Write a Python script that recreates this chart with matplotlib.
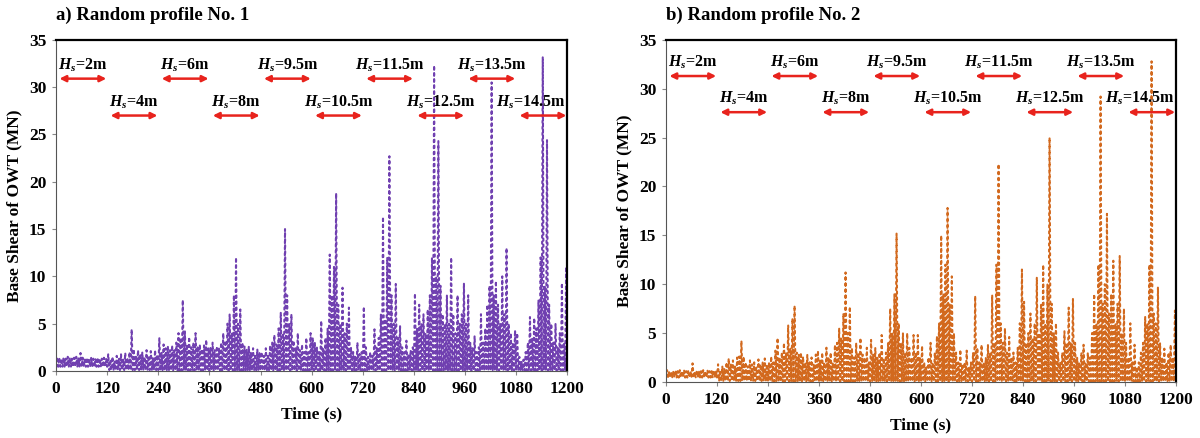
import numpy as np
import matplotlib.pyplot as plt

plt.rcParams["font.family"] = ["Liberation Serif", "DejaVu Serif"]
plt.rcParams["font.weight"] = "bold"
plt.rcParams["mathtext.fontset"] = "custom"
plt.rcParams["mathtext.it"] = "Liberation Serif:italic:bold"
plt.rcParams["mathtext.rm"] = "Liberation Serif:bold"

# wave heights of the ten 120 s segments
hs_labels = ["2", "4", "6", "8", "9.5", "10.5", "11.5", "12.5", "13.5", "14.5"]
seg_len = 120.0
peak_dt = 5.0

# local peaks of base shear (MN), one every 5 s, profile No. 1
peaks_1 = [
    1.5, 1.4, 1.3, 1.4, 1.3, 1.5, 1.4, 1.3, 1.4, 1.5, 1.4, 1.9, 1.4, 1.3, 1.4, 1.3, 1.4, 1.3, 1.3, 1.4, 1.3, 1.3, 1.4, 1.3,
    1.8, 1.2, 1.5, 1.0, 1.6, 1.3, 1.8, 1.2, 1.9, 1.4, 2.0, 4.4, 2.3, 1.5, 2.2, 1.8, 2.0, 1.5, 2.2, 1.6, 2.1, 1.4, 2.2, 1.7,
    3.5, 2.0, 2.8, 2.4, 2.6, 2.2, 2.7, 2.2, 3.0, 4.0, 3.5, 7.5, 4.2, 2.8, 3.6, 2.5, 3.0, 4.0, 2.6, 2.8, 2.3, 2.7, 3.3, 2.4,
    2.5, 3.0, 2.2, 2.6, 2.4, 3.0, 4.0, 3.2, 5.0, 6.0, 4.0, 8.0, 12.0, 5.0, 6.5, 3.0, 2.6, 2.3, 2.6, 2.0, 2.4, 1.8, 2.3, 2.0,
    2.0, 1.6, 2.4, 1.8, 2.7, 3.0, 3.8, 2.8, 4.5, 6.2, 4.0, 15.0, 8.0, 5.0, 6.0, 3.2, 2.5, 4.0, 2.2, 2.8, 2.0, 3.5, 2.0, 4.0,
    3.5, 3.0, 2.5, 2.0, 5.3, 2.4, 3.5, 4.5, 12.3, 8.0, 11.0, 18.8, 7.0, 5.0, 8.8, 4.0, 5.0, 6.7, 2.5, 2.0, 1.6, 3.0, 1.8, 2.0,
    6.8, 2.5, 1.5, 2.0, 1.6, 4.4, 2.5, 3.5, 6.0, 16.3, 5.5, 12.0, 22.7, 8.0, 5.0, 9.2, 3.5, 4.8, 2.5, 2.0, 3.2, 1.8, 2.2, 2.5,
    8.2, 4.5, 7.0, 5.0, 6.0, 4.0, 6.5, 8.0, 12.0, 32.3, 10.0, 24.3, 9.0, 6.0, 5.0, 8.0, 5.0, 12.0, 6.0, 4.0, 8.0, 5.0, 6.0, 9.3,
    5.0, 8.0, 3.0, 2.5, 3.7, 2.0, 2.5, 6.0, 3.0, 4.5, 7.0, 9.0, 30.5, 8.0, 9.5, 7.0, 5.0, 10.0, 6.0, 13.0, 5.0, 4.0, 3.0, 4.3,
    4.0, 1.5, 1.0, 1.2, 2.0, 3.0, 5.7, 3.5, 5.6, 4.5, 7.5, 12.0, 33.2, 9.0, 24.4, 7.0, 5.0, 3.0, 5.0, 2.5, 4.0, 9.3, 3.0, 11.0,
]
# local peaks of base shear (MN), one every 5 s, profile No. 2
peaks_2 = [
    1.2, 1.1, 1.0, 1.1, 1.2, 1.1, 1.2, 1.1, 1.2, 1.1, 1.2, 1.1, 1.9, 1.0, 1.2, 1.1, 1.1, 1.2, 1.1, 1.2, 1.1, 1.1, 1.2, 1.1,
    1.8, 1.2, 1.6, 1.4, 2.0, 2.4, 1.8, 2.2, 1.6, 2.5, 2.6, 4.2, 2.6, 2.0, 1.6, 2.2, 1.8, 2.0, 1.5, 2.3, 1.8, 2.0, 2.4, 1.8,
    2.0, 2.6, 2.0, 3.2, 4.5, 2.5, 3.0, 4.0, 3.0, 5.8, 3.5, 6.5, 7.8, 3.0, 2.8, 3.0, 2.6, 2.0, 2.8, 2.0, 2.5, 1.8, 2.8, 3.2,
    2.2, 3.0, 2.0, 3.5, 2.5, 3.0, 2.0, 3.8, 4.0, 5.5, 4.5, 7.0, 11.2, 5.0, 7.7, 3.5, 2.5, 4.0, 3.0, 4.5, 2.8, 2.5, 3.5, 2.0,
    4.3, 2.8, 3.5, 2.5, 3.0, 4.8, 2.4, 3.0, 4.0, 7.5, 5.0, 9.0, 15.2, 6.0, 4.0, 5.0, 3.0, 5.0, 3.5, 2.5, 4.8, 3.0, 4.8, 2.5,
    3.7, 2.0, 1.5, 2.5, 4.0, 2.0, 3.0, 4.7, 6.0, 15.0, 9.0, 12.0, 17.8, 8.0, 10.8, 5.0, 3.0, 2.0, 3.3, 1.8, 2.0, 3.2, 1.5, 2.0,
    3.0, 8.8, 3.5, 2.0, 3.8, 2.0, 2.5, 3.8, 3.0, 8.9, 4.0, 12.0, 22.3, 6.0, 4.0, 5.5, 3.0, 4.6, 2.5, 3.0, 2.0, 3.5, 6.0, 11.5,
    8.2, 4.0, 5.0, 7.0, 4.5, 6.0, 10.7, 5.0, 8.0, 12.0, 6.0, 10.0, 25.0, 8.0, 5.0, 6.0, 3.0, 2.0, 3.0, 5.2, 4.0, 7.6, 4.0, 8.5,
    4.0, 2.5, 2.0, 3.0, 3.8, 2.0, 3.0, 2.5, 5.0, 9.0, 6.0, 12.0, 29.2, 8.0, 10.0, 17.2, 7.0, 9.0, 12.4, 6.0, 8.0, 12.9, 5.0, 7.5,
    4.0, 2.5, 6.0, 2.0, 3.8, 1.5, 2.0, 3.0, 4.0, 6.7, 6.0, 12.0, 32.8, 7.0, 6.0, 9.7, 4.0, 2.5, 3.4, 2.0, 3.0, 3.8, 2.5, 7.3,
]
# trough level between peaks in each segment (MN)
troughs_1 = [0.45, 0.1, 0.05, 0.05, 0.05, 0.05, 0.05, 0.05, 0.05, 0.05]
troughs_2 = [0.45, 0.1, 0.05, 0.05, 0.05, 0.05, 0.05, 0.05, 0.05, 0.05]

purple = "#7040b0"
orange = "#d2691e"
arrow_red = "#e8231d"


def build_series(peaks, troughs):
    peaks = np.asarray(peaks)
    t_pk = peak_dt / 2 + peak_dt * np.arange(len(peaks))
    per_seg = int(seg_len / peak_dt)
    tr = np.repeat(troughs, per_seg)
    t = np.empty(2 * len(peaks) + 1)
    v = np.empty_like(t)
    t[0], v[0] = 0.0, tr[0]
    t[1::2], v[1::2] = t_pk, peaks
    t[2::2], v[2::2] = t_pk + peak_dt / 2, tr
    return t, v


def draw_panel(ax, peaks, troughs, color, title, upper_y, lower_y):
    t, v = build_series(peaks, troughs)
    ax.plot(t, v, color=color, lw=1.5, linestyle=(0, (1, 1.9)),
            dash_capstyle="round", solid_joinstyle="round")
    ax.set_xlim(0, 1200)
    ax.set_ylim(0, 35)
    ax.set_xticks(np.arange(0, 1201, 120))
    ax.set_yticks(np.arange(0, 36, 5))
    ax.tick_params(labelsize=12.5, length=3, color="#888888", pad=4)
    for lab in ax.get_xticklabels() + ax.get_yticklabels():
        lab.set_fontweight("bold")
    for side in ["top", "right"]:
        ax.spines[side].set_linewidth(1.6)
        ax.spines[side].set_color("black")
    ax.spines["left"].set_color("#555555")
    ax.spines["bottom"].set_color("#555555")
    ax.set_xlabel("Time (s)", fontsize=12.5, fontweight="bold", labelpad=7)
    ax.set_ylabel("Base Shear of OWT (MN)", fontsize=12.5, fontweight="bold", labelpad=5)
    ax.set_title(title, loc="left", fontsize=13.5, fontweight="bold", pad=14)

    # wave height of each segment, arrows alternate between two rows
    for k, hs in enumerate(hs_labels):
        x0 = k * seg_len + 8
        x1 = k * seg_len + 118
        y = upper_y if k % 2 == 0 else lower_y
        ax.annotate("", xy=(x0, y), xytext=(x1, y),
                    arrowprops=dict(arrowstyle="<|-|>", color=arrow_red, lw=1.8,
                                    mutation_scale=9, shrinkA=0, shrinkB=0))
        if k == len(hs_labels) - 1:
            ax.text(x1 - 2, y + 0.5, rf"$H_s$={hs}m", ha="right", va="bottom",
                    fontsize=11.5, fontweight="bold")
        else:
            ax.text((x0 + x1) / 2, y + 0.5, rf"$H_s$={hs}m", ha="center", va="bottom",
                    fontsize=11.5, fontweight="bold")


fig = plt.figure(figsize=(12, 4.38), dpi=100)
ax1 = fig.add_axes([0.0467, 0.153, 0.426, 0.756])
ax2 = fig.add_axes([0.555, 0.128, 0.425, 0.781])

draw_panel(ax1, peaks_1, troughs_1, purple, "a) Random profile No. 1", 30.9, 27.0)
draw_panel(ax2, peaks_2, troughs_2, orange, "b) Random profile No. 2", 31.3, 27.6)

fig.savefig("out.png", dpi=100)
